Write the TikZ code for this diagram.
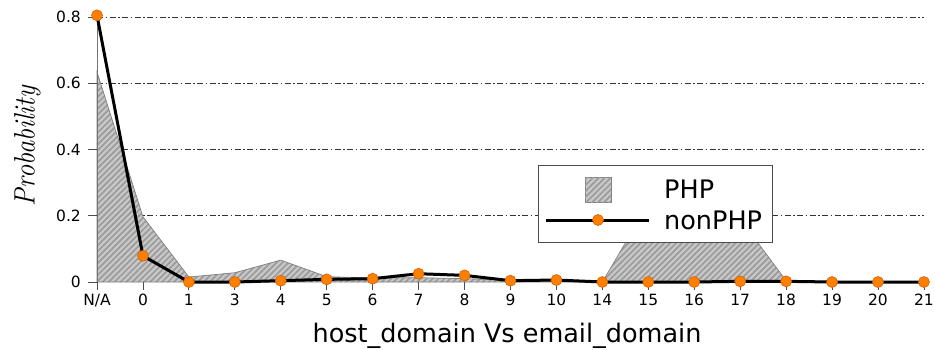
\documentclass[tikz,border=0pt]{standalone}
\usepackage{fontspec}
\setmainfont{DejaVu Sans}
\newfontfamily\probfont{Latin Modern Roman}
\usetikzlibrary{patterns.meta}
\definecolor{mkfill}{RGB}{255,128,0}
\definecolor{mkedge}{RGB}{215,95,0}
\definecolor{hatchbg}{RGB}{200,200,200}
\definecolor{hatchln}{RGB}{155,155,155}
\begin{document}
\begin{tikzpicture}[x=1pt,y=1pt,
  tickmark/.style={draw=black!70, line width=0.8pt},
  gridline/.style={draw=black!80, line width=0.8pt, dash pattern=on 6pt off 2.5pt on 1.5pt off 2.5pt},
  hatch/.style={fill=hatchbg, postaction={pattern={Lines[angle=45,distance=4.2pt,line width=1.7pt]}, pattern color=hatchln}},
  hatchedge/.style={draw=black!50, line width=0.7pt},
  dataline/.style={draw=black, line width=3pt, line join=round},
  mk/.style={circle, fill=mkfill, draw=mkedge, line width=0.6pt, inner sep=0pt, minimum size=11pt},
  ticklab/.style={font=\fontsize{15.5}{18}\selectfont, inner sep=0pt},
  bigtext/.style={font=\fontsize{25.5}{30}\selectfont, inner sep=0pt},
  legendbox/.style={draw=black!70, fill=white, line width=0.9pt, inner sep=0pt}]
\useasboundingbox (0,0) rectangle (935,349);
\begin{scope}[shift={(97,67)}, x=45.94pt, y=331.25pt]
  % grid
  \foreach \v in {0.2,0.4,0.6,0.8} \draw[gridline] (0,\v) -- (18,\v);
  % PHP area
  \path[hatch] (0,0) -- (0,0.634) -- (1,0.197) -- (2,0.015) -- (3,0.028) -- (4,0.066)
    -- (5,0.016) -- (6,0.012) -- (7,0.013) -- (8,0.010) -- (9,0.006) -- (10,0.004)
    -- (11,0) -- (12,0.235) -- (13,0.225) -- (14,0.19) -- (15,0.004) -- (16,0.002)
    -- (17,0) -- (18,0) -- cycle;
  \draw[hatchedge] (0,0) -- (0,0.634) -- (1,0.197) -- (2,0.015) -- (3,0.028) -- (4,0.066)
    -- (5,0.016) -- (6,0.012) -- (7,0.013) -- (8,0.010) -- (9,0.006) -- (10,0.004)
    -- (11,0) -- (12,0.235) -- (13,0.225) -- (14,0.19) -- (15,0.004) -- (16,0.002)
    -- (17,0) -- (18,0) -- cycle;
  % left spine
  \draw[black!55, line width=0.8pt] (0,0) -- (0,0.8);
  % x ticks and labels
  \foreach \l [count=\i from 0] in {{N/A},0,1,3,4,5,6,7,8,9,10,14,15,16,17,18,19,20,21} {
    \draw[tickmark] (\i,0) -- ++(0,-8pt);
    \node[ticklab, anchor=base] (xl\i) at ([yshift=-23pt]\i,0) {\l};
  }
  % y ticks and labels
  \foreach \v [count=\j] in {0,0.2,0.4,0.6,0.8} {
    \draw[tickmark] (0,\v) -- ++(-9pt,0);
    \node[ticklab, anchor=east] (yl\j) at ([xshift=-16pt]0,\v) {\v};
  }
  % nonPHP data
  \foreach \p [count=\i from 0] in {0.805,0.079,0,0,0.004,0.008,0.01,0.025,0.02,0.004,0.006,0,0,0,0.002,0.002,0,0,0} {
    \coordinate (n\i) at (\i,\p);
  }
  \draw[dataline] (n0) -- (n1) -- (n2) -- (n3) -- (n4) -- (n5) -- (n6) -- (n7) -- (n8) -- (n9)
    -- (n10) -- (n11) -- (n12) -- (n13) -- (n14) -- (n15) -- (n16) -- (n17) -- (n18);
  \foreach \i in {0,...,18} \node[mk] (m\i) at (n\i) {};
\end{scope}
% legend
\node[legendbox, minimum width=234pt, minimum height=77pt, anchor=south west] (legend) at (538,106) {};
\node[hatch, draw=black!50, line width=0.7pt, minimum width=26pt, minimum height=25pt, inner sep=0pt] (swatch) at (598,159.5) {};
\coordinate (la) at (546,129);
\coordinate (lb) at (649,129);
\draw[dataline] (la) -- (lb);
\node[mk] (lm) at (598,129) {};
\node[bigtext, anchor=base west] (lphp) at (664,151) {PHP};
\node[bigtext, anchor=base west] (lnon) at (664,119.7) {nonPHP};
% axis titles
\node[bigtext, anchor=base] (xtitle) at (507,6.3) {host\_domain Vs email\_domain};
\node[rotate=90, inner sep=0pt, font=\probfont\itshape\fontsize{29.5}{34}\selectfont] (ytitle) at (27.5,203) {\scalebox{0.9}[1]{Probability}};
\end{tikzpicture}
\end{document}
